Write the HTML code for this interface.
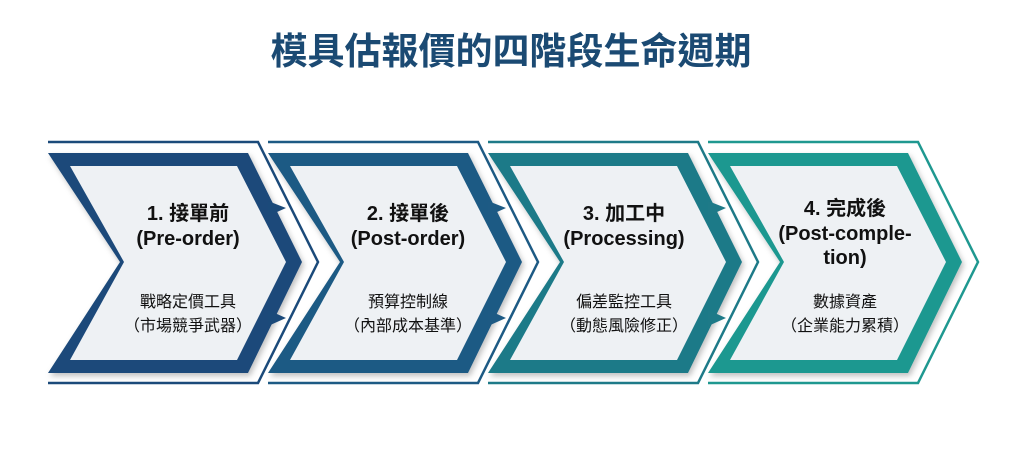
<!DOCTYPE html>
<html><head><meta charset="utf-8"><style>
body{margin:0;background:#fff;width:1024px;height:471px;overflow:hidden}
svg text{font-family:"Liberation Sans","Noto Sans CJK TC",sans-serif}
</style></head><body>
<svg width="1024" height="471" viewBox="0 0 1024 471">
<defs><filter id="sh" x="-10%" y="-10%" width="120%" height="120%"><feDropShadow dx="2" dy="3" stdDeviation="3" flood-opacity="0.25"/></filter></defs>
<text x="511" y="64" text-anchor="middle" font-size="37" font-weight="bold" fill="#1b4a73" style="font-family:'Noto Sans CJK TC',sans-serif">模具估報價的四階段生命週期</text>
<g>
<polyline points="48,142 258,142 318,262 258,383 48,383" fill="none" stroke="#1b4a7a" stroke-width="2.5"/>
<polygon points="48,153 248,153 302,262 248,373 48,373 120,262" fill="#1b4a7a" filter="url(#sh)"/>
<polygon points="70,166 237,166 286,262 237,360 70,360 124,262" fill="#eef1f4"/>
</g>
<g transform="translate(220,0)">
<polyline points="48,142 258,142 318,262 258,383 48,383" fill="none" stroke="#1d5a84" stroke-width="2.5"/>
<polygon points="48,153 248,153 302,262 248,373 48,373 120,262" fill="#1d5a84" filter="url(#sh)"/>
<polygon points="70,166 237,166 286,262 237,360 70,360 124,262" fill="#eef1f4"/>
</g>
<g transform="translate(440,0)">
<polyline points="48,142 258,142 318,262 258,383 48,383" fill="none" stroke="#1e7a88" stroke-width="2.5"/>
<polygon points="48,153 248,153 302,262 248,373 48,373 120,262" fill="#1e7a88" filter="url(#sh)"/>
<polygon points="70,166 237,166 286,262 237,360 70,360 124,262" fill="#eef1f4"/>
</g>
<g transform="translate(660,0)">
<polyline points="48,142 258,142 318,262 258,383 48,383" fill="none" stroke="#1f9890" stroke-width="2.5"/>
<polygon points="48,153 248,153 302,262 248,373 48,373 120,262" fill="#1f9890" filter="url(#sh)"/>
<polygon points="70,166 237,166 286,262 237,360 70,360 124,262" fill="#eef1f4"/>
</g>
<g fill="#1b4a7a">
<polygon points="268,201 286,208 268,216"/><polygon points="268,310 286,318 268,326"/>
</g>
<g fill="#1d5a84">
<polygon points="488,201 506,208 488,216"/><polygon points="488,310 506,318 488,326"/>
</g>
<g fill="#1e7a88">
<polygon points="708,201 726,208 708,216"/><polygon points="708,310 726,318 708,326"/>
</g>
<g fill="#111" text-anchor="middle">
<text x="188" y="220" font-size="20" font-weight="bold">1. 接單前</text>
<text x="188" y="245" font-size="20" font-weight="bold">(Pre-order)</text>
<text x="188" y="307" font-size="16">戰略定價工具</text>
<text x="188" y="331" font-size="16">（市場競爭武器）</text>
<text x="408" y="220" font-size="20" font-weight="bold">2. 接單後</text>
<text x="408" y="245" font-size="20" font-weight="bold">(Post-order)</text>
<text x="408" y="307" font-size="16">預算控制線</text>
<text x="408" y="331" font-size="16">（內部成本基準）</text>
<text x="624" y="220" font-size="20" font-weight="bold">3. 加工中</text>
<text x="624" y="245" font-size="20" font-weight="bold">(Processing)</text>
<text x="624" y="307" font-size="16">偏差監控工具</text>
<text x="624" y="331" font-size="16">（動態風險修正）</text>
<text x="845" y="215" font-size="20" font-weight="bold">4. 完成後</text>
<text x="845" y="240" font-size="20" font-weight="bold">(Post-comple-</text>
<text x="845" y="264" font-size="20" font-weight="bold">tion)</text>
<text x="845" y="307" font-size="16">數據資產</text>
<text x="845" y="331" font-size="16">（企業能力累積）</text>
</g>
</svg>
</body></html>
